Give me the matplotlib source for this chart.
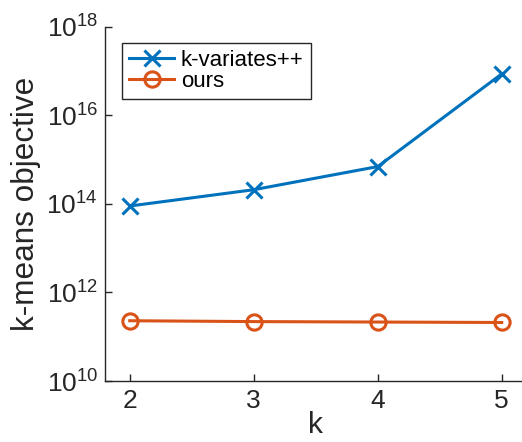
import matplotlib
matplotlib.use("Agg")
import matplotlib.pyplot as plt

plt.rcParams['font.family'] = ['Liberation Sans', 'DejaVu Sans']
plt.rcParams['mathtext.fontset'] = 'custom'
plt.rcParams['mathtext.rm'] = 'Liberation Sans'
plt.rcParams['mathtext.it'] = 'Liberation Sans'
plt.rcParams['mathtext.default'] = 'regular'

k_values = [2, 3, 4, 5]
kvariates = [9.0e13, 2.1e14, 7.0e14, 8.7e16]
ours = [2.3e11, 2.2e11, 2.15e11, 2.1e11]
series_names = ["k-variates++", "ours"]
ytick_vals = [1e10, 1e12, 1e14, 1e16, 1e18]
ytick_labels = ["$10^{10}$", "$10^{12}$", "$10^{14}$", "$10^{16}$", "$10^{18}$"]

blue = "#0072BD"
orange = "#D95319"
dark = "#262626"

fig = plt.figure(figsize=(5.22, 4.42), dpi=100)
ax = fig.add_axes([0.201, 0.138, 0.8077, 0.801])

ax.plot(k_values, kvariates, color=blue, lw=2.2, marker='x', markersize=11,
        markeredgewidth=2.2, label=series_names[0])
ax.plot(k_values, ours, color=orange, lw=2.2, marker='o', markersize=11,
        markeredgewidth=2.2, markerfacecolor='none', label=series_names[1])

ax.set_yscale('log')
ax.set_ylim(1e10, 1e18)
ax.set_xlim(1.8, 5.2)
ax.set_yticks(ytick_vals)
ax.set_yticklabels(ytick_labels)
ax.yaxis.set_minor_locator(matplotlib.ticker.NullLocator())
ax.set_xticks(k_values)
ax.set_xticklabels([str(k) for k in k_values])

ax.tick_params(direction='in', length=5, width=1, colors=dark)
ax.tick_params(axis='x', labelsize=19, pad=6)
ax.tick_params(axis='y', labelsize=19, pad=5)
for s in ['top', 'right']:
    ax.spines[s].set_visible(False)
for s in ['left', 'bottom']:
    ax.spines[s].set_color(dark)
    ax.spines[s].set_linewidth(1)

ax.set_xlabel('k', fontsize=21.5, color=dark, labelpad=-1.5)
ax.set_ylabel('k-means objective', fontsize=22.7, color=dark, labelpad=4)

leg = ax.legend(loc='upper left', bbox_to_anchor=(0.0396, 0.9556), borderaxespad=0,
                fontsize=16, fancybox=False, frameon=True, handlelength=2.03,
                handletextpad=0.3, labelspacing=0.0, borderpad=0.33, framealpha=1)
leg.get_frame().set_edgecolor('#262626')
leg.get_frame().set_linewidth(1)
for t in leg.get_texts():
    t.set_color('black')

fig.savefig('out.png', dpi=100)
